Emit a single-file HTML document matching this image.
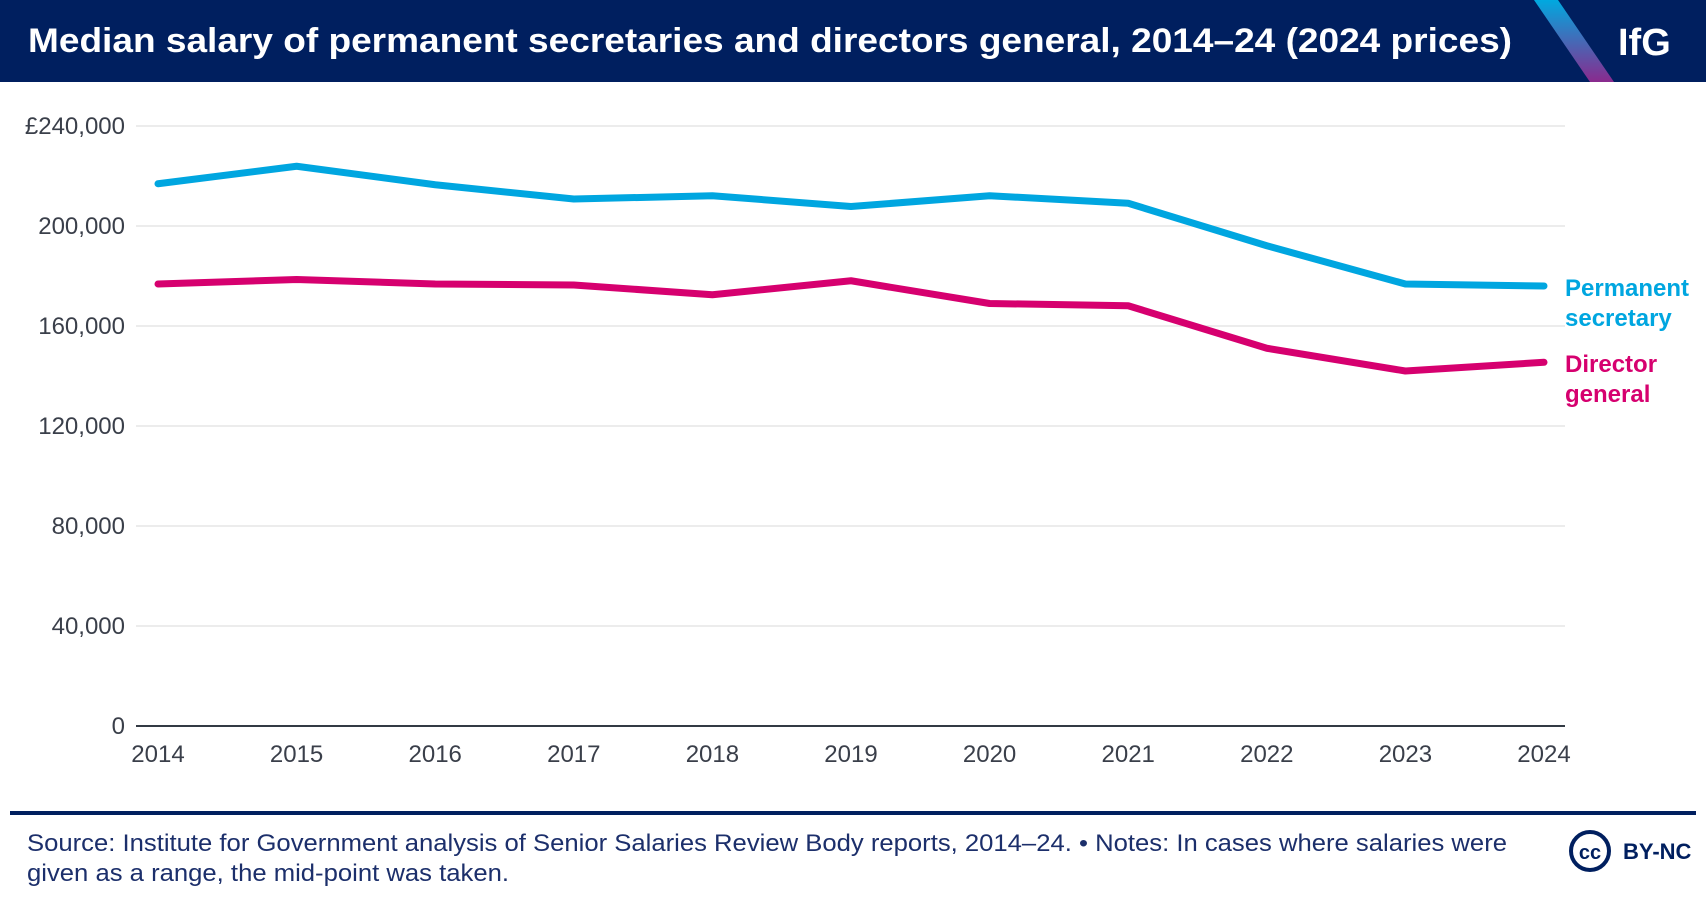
<!DOCTYPE html>
<html><head><meta charset="utf-8"><style>
body{margin:0;width:1706px;height:902px;background:#fff;font-family:"Liberation Sans",sans-serif;overflow:hidden;position:relative}
</style></head><body>
<svg width="1706" height="902" style="position:absolute;left:0;top:0">
<defs><linearGradient id="g" x1="0" y1="0" x2="0" y2="1"><stop offset="0" stop-color="#00a9e0"/><stop offset="1" stop-color="#8a2a8e"/></linearGradient></defs>
<rect x="0" y="0" width="1706" height="82" fill="#001f5f"/>
<polygon points="1534,0 1558,0 1614,82 1590,82" fill="url(#g)"/>
<text x="28" y="52" font-size="34" font-weight="bold" fill="#fff" textLength="1484" lengthAdjust="spacingAndGlyphs">Median salary of permanent secretaries and directors general, 2014–24 (2024 prices)</text>
<text x="1618" y="55" font-size="38" font-weight="bold" fill="#fff">IfG</text>
<g id="grid"></g><g id="lines"></g>
<rect x="10" y="811" width="1686" height="4" fill="#001f5f"/>
<text x="27" y="851" font-size="24" fill="#1c2f6b" textLength="1480" lengthAdjust="spacingAndGlyphs">Source: Institute for Government analysis of Senior Salaries Review Body reports, 2014–24. • Notes: In cases where salaries were</text>
<text x="27" y="881" font-size="24" fill="#1c2f6b" textLength="482" lengthAdjust="spacingAndGlyphs">given as a range, the mid-point was taken.</text>
<g><circle cx="1590" cy="851" r="19" fill="none" stroke="#001f5f" stroke-width="4"/>
<text x="1590" y="859" font-size="20" font-weight="bold" fill="#001f5f" text-anchor="middle">cc</text>
<text x="1623" y="859" font-size="22" font-weight="bold" fill="#001f5f">BY-NC</text></g>
</svg>
<script>
const years=[2014,2015,2016,2017,2018,2019,2020,2021,2022,2023,2024];
const permSec=[216900,223900,216500,210800,212100,207800,212100,209100,192100,176800,176000];
const dirGen=[176800,178600,176800,176400,172500,178100,169000,168100,151100,142000,145500];
const yTicks=[0,40000,80000,120000,160000,200000,240000];
const NS="http://www.w3.org/2000/svg";
const x=i=>158+(1544-158)*i/(years.length-1);
const y=v=>726-(726-126)*v/240000;
function mk(t,a,p){const e=document.createElementNS(NS,t);for(const k in a)e.setAttribute(k,a[k]);p.appendChild(e);return e;}
const grid=document.getElementById('grid'),lines=document.getElementById('lines');
yTicks.forEach((v,i)=>{
 if(v>0){const l=mk('line',{x1:136,x2:1565,y1:y(v),y2:y(v),stroke:'#e6e6e6','stroke-width':1.5},grid);
 
 }
 const t=mk('text',{x:125,y:y(v)+8,'font-size':24,fill:'#3a3f4a','text-anchor':'end'},grid);
 t.textContent=(i==yTicks.length-1?'£':'')+v.toLocaleString('en-GB');
 
 
});
const ax=mk('line',{x1:136,x2:1565,y1:726,y2:726,stroke:'#333a44','stroke-width':2},grid);


years.forEach((yr,i)=>{const t=mk('text',{x:x(i),y:762,'font-size':24,fill:'#3a3f4a','text-anchor':'middle'},grid);
 t.textContent=yr;
 
 });
function line(d,c,n){const p=mk('polyline',{points:d.map((v,i)=>x(i)+','+y(v)).join(' '),fill:'none',stroke:c,'stroke-width':7,'stroke-linejoin':'round','stroke-linecap':'round'},lines);
 
 }
line(permSec,'#00a6e0','permanent-secretary-line');
line(dirGen,'#d6006f','director-general-line');
function lab(t1,t2,yy,c,n){const t=mk('text',{x:1565,y:yy,'font-size':24,'font-weight':'bold',fill:c},lines);
 t.innerHTML='<tspan x="1565">'+t1+'</tspan><tspan x="1565" dy="30">'+t2+'</tspan>';
 
 }
lab('Permanent','secretary',296,'#00a6e0','permanent-secretary-label');
lab('Director','general',372,'#d6006f','director-general-label');
</script>
</body></html>
